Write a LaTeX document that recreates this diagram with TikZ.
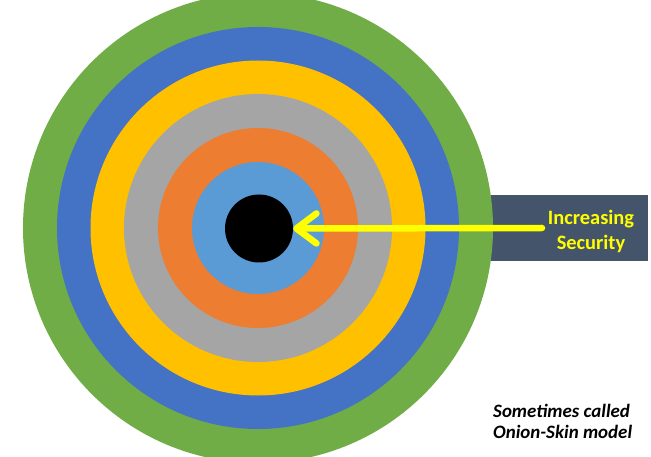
\documentclass[tikz,border=0pt]{standalone}
\usepackage{fontspec}
\setmainfont{Carlito}
\usetikzlibrary{arrows.meta}
\definecolor{cgreen}{HTML}{70AD47}
\definecolor{cblue}{HTML}{4472C4}
\definecolor{cgold}{HTML}{FFC000}
\definecolor{cgray}{HTML}{A5A5A5}
\definecolor{corange}{HTML}{ED7D31}
\definecolor{clblue}{HTML}{5B9BD5}
\definecolor{cslate}{HTML}{44546A}
\definecolor{cyell}{HTML}{FFFF00}
\tikzset{
  ring/.style={circle, inner sep=0pt, minimum size=#1},
  arrowline/.style={line width=6.5bp, cyell, line cap=round,
    -{Straight Barb[length=20bp, width=30bp, line cap=round, line join=round]}},
  sectext/.style={text=cyell, font=\bfseries\fontsize{20.5}{25}\selectfont, align=center, inner sep=0pt},
  notetext/.style={text=black, font=\bfseries\itshape\fontsize{19}{21.5}\selectfont, align=left, inner sep=0pt, anchor=north west}
}
\begin{document}
\begin{tikzpicture}[x=1bp, y=-1bp]
\useasboundingbox (0,0) rectangle (651,457);
\fill[white] (0,0) rectangle (651,457);
\node[fill=cslate, minimum width=157bp, minimum height=66bp, inner sep=0pt, anchor=north west] (box) at (491,195) {};
\node[ring=470bp, fill=cgreen] (r7) at (258,228) {};
\node[ring=402bp, fill=cblue] (r6) at (258,228) {};
\node[ring=335bp, fill=cgold] (r5) at (258,228) {};
\node[ring=268bp, fill=cgray] (r4) at (258,228) {};
\node[ring=200bp, fill=corange] (r3) at (258,228) {};
\node[ring=132bp, fill=clblue] (r2) at (258,228) {};
\node[ring=68bp, fill=black] (core) at (259,228.5) {};
\node[sectext] (label) at (591,231.5) {Increasing\\Security};
\coordinate (start) at (542,228);
\draw[arrowline] (start) -- (core.east);
\node[notetext] (note) at (493,404) {Sometimes called\\Onion-Skin model};
\end{tikzpicture}
\end{document}
